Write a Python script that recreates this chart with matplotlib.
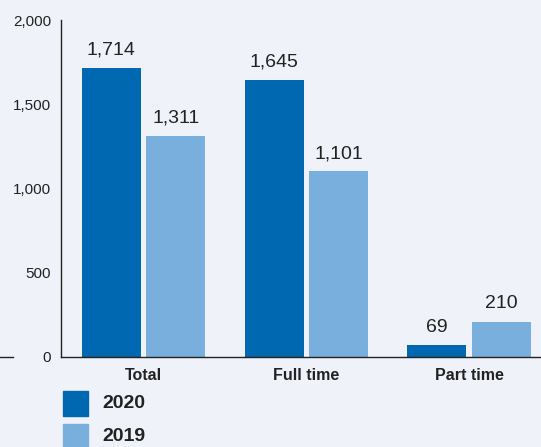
import numpy as np
import matplotlib
matplotlib.use('Agg')
from matplotlib import pyplot as plt
from matplotlib.patches import Rectangle
from matplotlib.lines import Line2D

# Chart data
categories = ['Total', 'Full time', 'Part time']
values_2020 = [1714, 1645, 69]
values_2019 = [1311, 1101, 210]
series_labels = ['2020', '2019']
y_ticks = [0, 500, 1000, 1500, 2000]

dark_blue = '#0067b1'
light_blue = '#79afdc'
bg = '#eff2f8'

plt.rcParams['font.family'] = ['Liberation Sans', 'DejaVu Sans']

fig = plt.figure(figsize=(5.41, 4.47), dpi=100, facecolor=bg)
ax = fig.add_axes([61 / 541, 1 - 357 / 447, 1 - 61 / 541, (357 - 20) / 447])
ax.set_facecolor(bg)

x = np.arange(len(categories))
width = 0.3625
offset = 0.198
bars20 = ax.bar(x - offset, values_2020, width, color=dark_blue)
bars19 = ax.bar(x + offset, values_2019, width, color=light_blue)

# value labels over each bar
for bars in (bars20, bars19):
    for b in bars:
        ax.text(b.get_x() + b.get_width() / 2, b.get_height() + 55,
                f'{int(b.get_height()):,}', ha='center', va='bottom',
                fontsize=14, color='#222222')

ax.set_xlim(-0.507, 2.442)
ax.set_ylim(0, 2000)
ax.set_yticks(y_ticks)
ax.set_yticklabels([f'{v:,}' for v in y_ticks])
ax.set_xticks(x)
ax.set_xticklabels(categories, fontweight='bold')
ax.tick_params(axis='y', length=0, pad=7, labelsize=11, colors='#222222')
ax.tick_params(axis='x', length=0, pad=8, labelsize=11.5, colors='#222222')
for s in ('top', 'right'):
    ax.spines[s].set_visible(False)
ax.spines['left'].set_color('#222222')
ax.spines['bottom'].set_color('#222222')
ax.spines['left'].set_linewidth(1.0)
ax.spines['bottom'].set_linewidth(1.0)

# short baseline stub left of the "0" label
fig.add_artist(Line2D([0, 13 / 541], [1 - 357 / 447, 1 - 357 / 447],
                      color='#222222', lw=1.0, transform=fig.transFigure))

# Legend
for i, (lab, col) in enumerate(zip(series_labels, [dark_blue, light_blue])):
    top = 391 + i * 33
    fig.add_artist(Rectangle((63 / 541, 1 - (top + 25) / 447), 25 / 541, 25 / 447,
                             color=col, transform=fig.transFigure))
    fig.text(102 / 541, 1 - (top + 12.5) / 447, lab, fontsize=14,
             fontweight='bold', va='center', ha='left', color='#222222')

fig.savefig('out.png', dpi=100, facecolor=bg)
